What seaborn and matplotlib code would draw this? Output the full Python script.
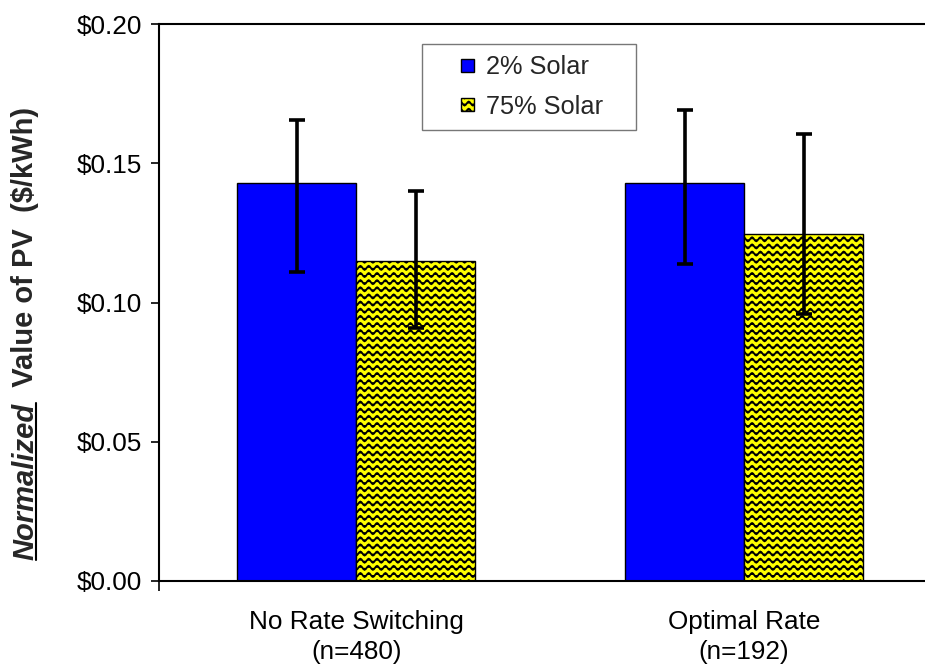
import warnings
import numpy as np
import pandas as pd
import seaborn as sns
import matplotlib
matplotlib.use("Agg")
import matplotlib.pyplot as plt
import matplotlib.hatch as mhatch
from matplotlib.path import Path
from matplotlib.lines import Line2D
from matplotlib.patches import Rectangle
from matplotlib.legend_handler import HandlerPatch
from matplotlib.ticker import StrMethodFormatter

warnings.filterwarnings("ignore")

# data
categories = ["No Rate Switching\n(n=480)", "Optimal Rate\n(n=192)"]
series = ["2% Solar", "75% Solar"]
value_2pct = [0.143, 0.143]
value_75pct = [0.115, 0.1245]
err_low_2pct = [0.111, 0.114]
err_high_2pct = [0.1655, 0.169]
err_low_75pct = [0.091, 0.096]
err_high_75pct = [0.140, 0.1605]
y_ticks = [0.00, 0.05, 0.10, 0.15, 0.20]


class WaveHatch(mhatch.HatchPatternBase):
    # wavy lines like the Excel "wave" pattern fill
    def __init__(self, hatch, density):
        self.num_rows = hatch.count("~") * 7
        self.num_pts = 12 * 8 + 1
        self.num_vertices = self.num_rows * self.num_pts

    def set_vertices_and_codes(self, vertices, codes):
        xs = np.linspace(0, 1, self.num_pts)
        wave = 0.02 * np.sin(2 * np.pi * 12 * xs)
        rows = (np.arange(self.num_rows) + 0.5) / self.num_rows
        for i, r in enumerate(rows):
            sl = slice(i * self.num_pts, (i + 1) * self.num_pts)
            vertices[sl, 0] = xs
            vertices[sl, 1] = r + wave
            codes[sl] = Path.LINETO
            codes[i * self.num_pts] = Path.MOVETO


mhatch._hatch_types.append(WaveHatch)


def square_patch(legend, orig_handle, xdescent, ydescent, width, height, fontsize):
    s = 0.5 * fontsize
    return Rectangle((width - s - xdescent, -ydescent + (height - s) / 2), s, s)


df = pd.DataFrame({
    "Rate": categories * 2,
    "Solar": [series[0]] * 2 + [series[1]] * 2,
    "Value": value_2pct + value_75pct,
})

sns.set_theme(style="white")
plt.rcParams["font.family"] = ["Liberation Sans", "DejaVu Sans"]
plt.rcParams["hatch.linewidth"] = 1.3

fig = plt.figure(figsize=(9.25, 6.66), dpi=100)
ax = fig.add_axes([159 / 925, 85 / 666, 766 / 925, 557 / 666])

sns.barplot(data=df, x="Rate", y="Value", hue="Solar", order=categories,
            hue_order=series, palette=["#0000ff", "#ffff00"], saturation=1,
            width=0.614, gap=0, edgecolor="black", linewidth=1,
            errorbar=None, legend=False, ax=ax)

for bar in ax.containers[1]:
    bar.set_hatch("~~")

# asymmetric error bars
for cont, vals, lo, hi in zip(ax.containers,
                              [value_2pct, value_75pct],
                              [err_low_2pct, err_low_75pct],
                              [err_high_2pct, err_high_75pct]):
    xs = [b.get_x() + b.get_width() / 2 for b in cont]
    vals = np.array(vals)
    yerr = [vals - np.array(lo), np.array(hi) - vals]
    ax.errorbar(xs, vals, yerr=yerr, fmt="none", ecolor="black",
                elinewidth=2.6, capsize=6, capthick=2.6, zorder=5)

ax.set_ylim(0, 0.20)
ax.set_yticks(y_ticks)
ax.yaxis.set_major_formatter(StrMethodFormatter("${x:.2f}"))
ax.set_xlim(-0.508, 1.466)
ax.set_xlabel("")
ax.set_ylabel("")

for side in ["left", "top", "bottom"]:
    ax.spines[side].set_color("black")
    ax.spines[side].set_linewidth(1.5)
ax.spines["right"].set_visible(False)

ax.tick_params(axis="y", left=True, direction="out", length=6, width=1.2,
               pad=6, labelsize=18.8, colors="black")
ax.tick_params(axis="x", which="major", length=0, pad=21, labelsize=18.8,
               colors="black")
for lab in ax.get_xticklabels():
    lab.set_linespacing(1.3)
ax.set_xticks([ax.get_xlim()[0]], minor=True)
ax.tick_params(axis="x", which="minor", bottom=True, direction="out",
               length=7, width=1.2, color="black")

leg = ax.legend(handles=[ax.containers[0][0], ax.containers[1][0]],
                labels=series, loc="upper left",
                bbox_to_anchor=(263 / 766, 0.964, 214 / 766, 0.0),
                mode="expand", fontsize=18.3, frameon=True, fancybox=False,
                edgecolor="#555555", handlelength=1.6, handleheight=0.7,
                handletextpad=0.45, labelspacing=0.6, borderpad=0.45,
                borderaxespad=0,
                handler_map={Rectangle: HandlerPatch(patch_func=square_patch)})
leg.get_frame().set_linewidth(1.0)

# y label: underlined bold-italic "Normalized" followed by bold text
fig.canvas.draw()
renderer = fig.canvas.get_renderer()
lab_kw = dict(fontsize=21, fontweight="bold", rotation=90,
              rotation_mode="anchor", ha="left", va="baseline")
x0, y0 = 33 / 925, 106 / 666
t1 = fig.text(x0, y0, "Normalized", style="italic", **lab_kw)
h = t1.get_window_extent(renderer).height / fig.bbox.height
fig.text(x0, y0 + h, "  Value of PV  ($/kWh)", **lab_kw)
fig.add_artist(Line2D([x0 + 3 / 925] * 2, [y0, y0 + h], color="black",
                      linewidth=1.5))

fig.savefig("out.png", dpi=100)
